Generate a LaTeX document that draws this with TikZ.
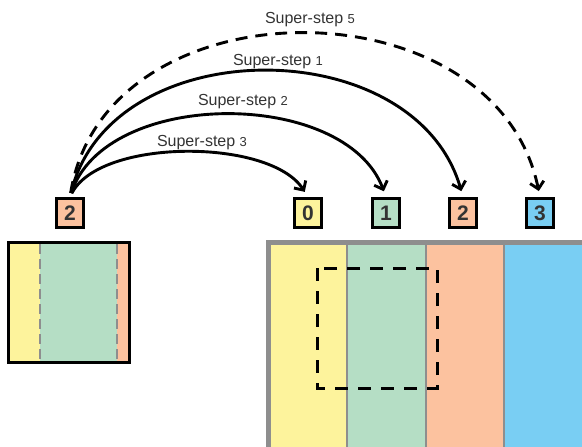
\documentclass[tikz,border=0pt]{standalone}
\usepackage{fontspec}
\setmainfont{Liberation Sans}
\usetikzlibrary{arrows.meta}
\definecolor{cy}{HTML}{FDF39C}
\definecolor{cg}{HTML}{B5DEC5}
\definecolor{co}{HTML}{FCC29F}
\definecolor{cb}{HTML}{79CEF3}
\definecolor{cgr}{HTML}{8E8E8E}
\definecolor{txt}{HTML}{333333}
\begin{document}
\begin{tikzpicture}[x=1pt,y=-1pt,
 lab/.style={draw=black, line width=3.2pt, minimum width=27pt, minimum height=29pt, inner sep=0pt, font=\fontsize{21}{21}\selectfont\bfseries, text=txt},
 ss/.style={line width=2.9pt, -{Straight Barb[length=7pt,width=14pt]}, shorten <=4pt, shorten >=6pt},
 ssd/.style={ss, dash pattern=on 12pt off 8pt},
 sslab/.style={font=\fontsize{16}{16}\selectfont, text=txt, inner sep=1pt}]
\useasboundingbox (0,0) rectangle (582,447);
% left block
\fill[cy] (8,242) rectangle (40,363);
\fill[cg] (40,242) rectangle (117,363);
\fill[co] (117,242) rectangle (130,363);
\draw[cgr, line width=2pt, dash pattern=on 10pt off 5pt] (40,244) -- (40,362);
\draw[cgr, line width=2pt, dash pattern=on 10pt off 5pt] (117,244) -- (117,362);
\draw[black, line width=3pt] (8.5,242.5) rectangle (129.5,362.5);
% right block
\fill[cy] (266,240) rectangle (347,447);
\fill[cg] (347,240) rectangle (425,447);
\fill[co] (425,240) rectangle (503,447);
\fill[cb] (503,240) rectangle (582,447);
\draw[cgr, line width=2pt] (347,244) -- (347,447) (425.5,244) -- (425.5,447) (503.5,244) -- (503.5,447);
\draw[cgr, line width=5pt] (268.5,447) -- (268.5,242.5) -- (582,242.5);
\draw[black, line width=3pt, dash pattern=on 13pt off 10pt] (317,268) rectangle (437,388);
% labels
\node[lab, fill=co] (lab2) at (70,213) {2};
\node[lab, fill=cy] (n0) at (308,213) {0};
\node[lab, fill=cg] (n1) at (386,213) {1};
\node[lab, fill=co] (n2) at (463,213) {2};
\node[lab, fill=cb] (n3) at (540,213) {3};
% arrows
\draw[ss] (lab2.north) .. controls (100,138) and (270,138) .. (n0.north);
\draw[ss] (lab2.north) .. controls (105,88) and (345,88) .. (n1.north);
\draw[ss] (lab2.north) .. controls (110,30) and (415,30) .. (n2.north);
\draw[ssd] (lab2.north) .. controls (105,-20) and (495,-20) .. (n3.north);
\node[sslab] (t3) at (202,143) {Super-step {\fontsize{13}{13}\selectfont 3}};
\node[sslab] (t2) at (243,102) {Super-step {\fontsize{13}{13}\selectfont 2}};
\node[sslab] (t1) at (278,62) {Super-step {\fontsize{13}{13}\selectfont 1}};
\node[sslab] (t5) at (310,20) {Super-step {\fontsize{13}{13}\selectfont 5}};
\end{tikzpicture}
\end{document}
